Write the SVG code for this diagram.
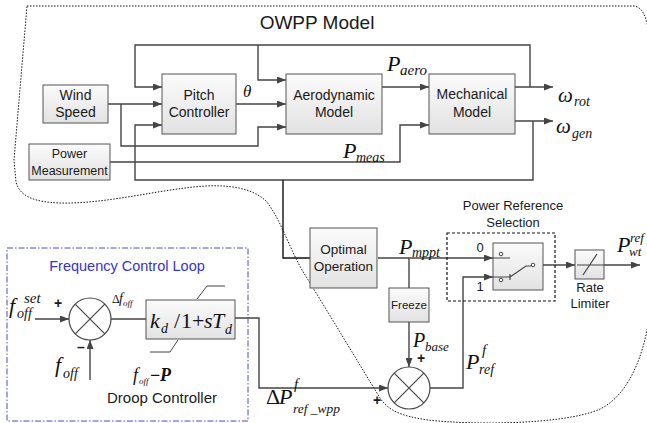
<svg xmlns="http://www.w3.org/2000/svg" width="647" height="423" viewBox="0 0 647 423">
<defs>
<linearGradient id="bf" x1="0" y1="0" x2="0" y2="1"><stop offset="0" stop-color="#fbfbfb"/><stop offset="1" stop-color="#e2e2e2"/></linearGradient>
<marker id="ar" viewBox="0 0 9 7" refX="9" refY="3.5" markerWidth="9" markerHeight="7" markerUnits="userSpaceOnUse" orient="auto"><path d="M0,0 L9,3.5 L0,7 Z" fill="#444"/></marker>
</defs>
<style>
.box{fill:url(#bf);stroke:#555;stroke-width:1}
.t{font-family:"Liberation Sans",Arial,sans-serif;font-size:14px;fill:#1a1a1a;text-anchor:middle}
.m{font-family:"Liberation Serif","Times New Roman",serif;font-style:italic;fill:#111}
.u{font-family:"Liberation Serif","Times New Roman",serif;fill:#111}
.ln{fill:none;stroke:#444;stroke-width:1.4}
.a{marker-end:url(#ar)}
.sm{fill:none;stroke:#444;stroke-width:1.2}
</style>
<rect width="647" height="423" fill="#fff"/>

<g id="owpp-region">
<path d="M27,6 H634 C642,7 646,16 648,28 L652,50 V290 C649,345 632,395 598,410 C560,425 470,425 428,420 C400,416 388,410 380,398 C358,362 328,312 302,270 C288,245 280,218 266,201 C248,184 215,184 185,188 C145,193 100,204 60,203 C35,202 20,197 16,182 L14,160 Z" fill="none" stroke="#111" stroke-width="1" stroke-dasharray="1.5,1.5"/>
<text class="t" x="317" y="29" style="font-size:19px">OWPP Model</text>
</g>

<g id="frequency-loop-region">
<rect x="7" y="248" width="241" height="173" fill="none" stroke="#4a4ad0" stroke-width="1" stroke-dasharray="6,2,1.5,2"/>
<text class="t" x="127" y="271" style="font-size:14.5px;fill:#3434c8">Frequency Control Loop</text>
</g>

<g id="connectors">
<path class="ln a" d="M530,87 V45 H135 V87 H162"/>
<path class="ln a" d="M258,45 V80 H286"/>
<path class="ln a" d="M108,104 H162"/>
<path class="ln a" d="M121,104 V146 H258 V127 H286"/>
<path class="ln a" d="M236,104 H286"/>
<path class="ln a" d="M533,121 V180 H135 V125 H162"/>
<path class="ln a" d="M110,162 H400 V125 H429"/>
<path class="ln a" d="M382,87 H429"/>
<path class="ln a" d="M515,87 H553"/>
<path class="ln a" d="M515,121 H553"/>
<path d="M283,180 V258 H310" fill="none" stroke="#111" stroke-width="1.4"/>
<path class="ln a" d="M378,258 H493"/>
<path class="ln" d="M409,258 V288"/>
<path class="ln a" d="M409,322 V367"/>
<path class="ln a" d="M235,318 H259 V388 H388"/>
<path class="ln a" d="M430,388 H463 V277 H493"/>
<path class="ln a" d="M535,265 H575"/>
<path class="ln a" d="M604,265 H640"/>
<path class="ln a" d="M35,319 H69"/>
<path class="ln a" d="M90,380 V340"/>
<path class="ln" d="M111,319 H146"/>
</g>

<g id="wind-speed">
<rect class="box" x="43" y="85" width="65" height="38"/>
<text class="t" x="75.5" y="100">Wind</text>
<text class="t" x="75.5" y="117">Speed</text>
</g>

<g id="power-measurement">
<rect class="box" x="29" y="144" width="81" height="36"/>
<text class="t" x="69.5" y="158" style="font-size:12.5px">Power</text>
<text class="t" x="69.5" y="175" style="font-size:12.5px">Measurement</text>
</g>

<g id="pitch-controller">
<rect class="box" x="162" y="74" width="74" height="60"/>
<text class="t" x="199" y="100">Pitch</text>
<text class="t" x="199" y="117">Controller</text>
</g>

<g id="aerodynamic-model">
<rect class="box" x="286" y="74" width="96" height="60"/>
<text class="t" x="334" y="100">Aerodynamic</text>
<text class="t" x="334" y="117">Model</text>
</g>

<g id="mechanical-model">
<rect class="box" x="429" y="74" width="86" height="60"/>
<text class="t" x="472" y="99">Mechanical</text>
<text class="t" x="472" y="117">Model</text>
</g>

<g id="signal-labels">
<text class="m" x="243" y="97" font-size="17">θ</text>
<text class="m" x="387" y="71" font-size="22">P</text><text class="m" x="400" y="75" font-size="15">aero</text>
<text class="m" x="558" y="102" font-size="21">ω</text><text class="m" x="574" y="106" font-size="14">rot</text>
<text class="m" x="556" y="133" font-size="21">ω</text><text class="m" x="572" y="138" font-size="14">gen</text>
<text class="m" x="343" y="158" font-size="22">P</text><text class="m" x="356" y="162" font-size="14">meas</text>
<text class="m" x="399" y="254" font-size="22">P</text><text class="m" x="412" y="257" font-size="14">mppt</text>
<text class="m" x="413" y="347" font-size="20">P</text><text class="m" x="425" y="351" font-size="13">base</text>
<text class="m" x="466" y="369" font-size="22">P</text><text class="m" x="482" y="355" font-size="15">f</text><text class="m" x="479" y="374" font-size="14">ref</text>
<text class="u" x="266" y="404" font-size="22">Δ</text><text class="m" x="279" y="404" font-size="22">P</text><text class="m" x="294" y="389" font-size="15">f</text><text class="m" x="293" y="413" font-size="13.5">ref _wpp</text>
<text class="m" x="617" y="252" font-size="22">P</text><text class="m" x="630" y="242" font-size="13">ref</text><text class="m" x="629" y="256" font-size="13">wt</text>
<text class="m" x="9" y="313" font-size="22">f</text><text class="m" x="24" y="303" font-size="15">set</text><text class="m" x="17" y="318" font-size="14">off</text>
<text class="m" x="55" y="372" font-size="22">f</text><text class="m" x="63" y="378" font-size="14">off</text>
<text class="u" x="112" y="303" font-size="12">Δ</text><text class="m" x="119" y="303" font-size="14">f</text><text class="m" x="123" y="306" font-size="9">off</text>
<text class="t" x="58" y="308" style="font-weight:bold">+</text>
<text class="t" x="81" y="352" style="font-weight:bold">–</text>
<text class="t" x="421" y="363" style="font-weight:bold">+</text>
<text class="t" x="377" y="405" style="font-weight:bold">+</text>
</g>

<g id="sum-frequency">
<circle cx="90" cy="319" r="21" fill="#fff" stroke="#444" stroke-width="1.2"/>
<path class="sm" d="M75.2,304.2 L104.8,333.8 M104.8,304.2 L75.2,333.8"/>
</g>

<g id="droop-controller">
<rect class="box" x="146" y="300" width="89" height="39"/>
<text class="m" x="150" y="328" font-size="22">k</text>
<text class="m" x="161" y="333" font-size="14">d</text>
<text class="u" x="174" y="328" font-size="22">/</text>
<text class="u" x="181" y="328" font-size="22">1</text>
<text class="u" x="192" y="328" font-size="22">+</text>
<text class="m" x="204" y="328" font-size="22">s</text>
<text class="m" x="212" y="328" font-size="22">T</text>
<text class="m" x="225" y="334" font-size="14">d</text>
<path d="M197,299 L207,286 H225 M178,340 L170,352 H150" fill="none" stroke="#444" stroke-width="1"/>
<text class="m" x="133" y="381" font-size="18">f</text><text class="m" x="139" y="384" font-size="9">off</text>
<text class="u" x="150" y="381" font-size="18" style="font-weight:bold">−</text><text class="m" x="160" y="381" font-size="18" style="font-weight:bold">P</text>
<text class="t" x="162" y="403" style="font-size:15px">Droop Controller</text>
</g>

<g id="optimal-operation">
<rect class="box" x="310" y="228" width="67" height="60"/>
<text class="t" x="343.5" y="254" style="font-size:13.5px">Optimal</text>
<text class="t" x="343.5" y="271" style="font-size:13.5px">Operation</text>
</g>

<g id="freeze">
<rect class="box" x="389" y="288" width="40" height="34"/>
<text class="t" x="409" y="309" style="font-size:11.5px">Freeze</text>
</g>

<g id="sum-power">
<circle cx="409" cy="388" r="21" fill="#fff" stroke="#444" stroke-width="1.2"/>
<path class="sm" d="M394.2,373.2 L423.8,402.8 M423.8,373.2 L394.2,402.8"/>
</g>

<g id="power-reference-selection">
<rect x="447" y="233" width="108" height="68" fill="none" stroke="#111" stroke-width="1.2" stroke-dasharray="3,2"/>
<text class="t" x="513" y="210" style="font-size:13px">Power Reference</text>
<text class="t" x="513" y="227" style="font-size:13px">Selection</text>
<rect class="box" x="493" y="243" width="50" height="47"/>
<path d="M493,258 H510 M493,277 H510 M510,274 V280 M510,277 L526,266 H531" fill="none" stroke="#444" stroke-width="1.2"/>
<circle cx="501" cy="254" r="1.8" fill="#fff" stroke="#444" stroke-width="1"/>
<circle cx="501" cy="280" r="1.8" fill="#fff" stroke="#444" stroke-width="1"/>
<circle cx="533" cy="265" r="1.8" fill="#fff" stroke="#444" stroke-width="1"/>
<text class="t" x="480" y="252" style="font-size:13px">0</text>
<text class="t" x="480" y="291" style="font-size:13px">1</text>
</g>

<g id="rate-limiter">
<rect class="box" x="575" y="250" width="29" height="29"/>
<path d="M577,265 H604 M583,275 L597,254" fill="none" stroke="#444" stroke-width="1.2"/>
<text class="t" x="590" y="292" style="font-size:13px">Rate</text>
<text class="t" x="590" y="308" style="font-size:13px">Limiter</text>
</g>
</svg>
